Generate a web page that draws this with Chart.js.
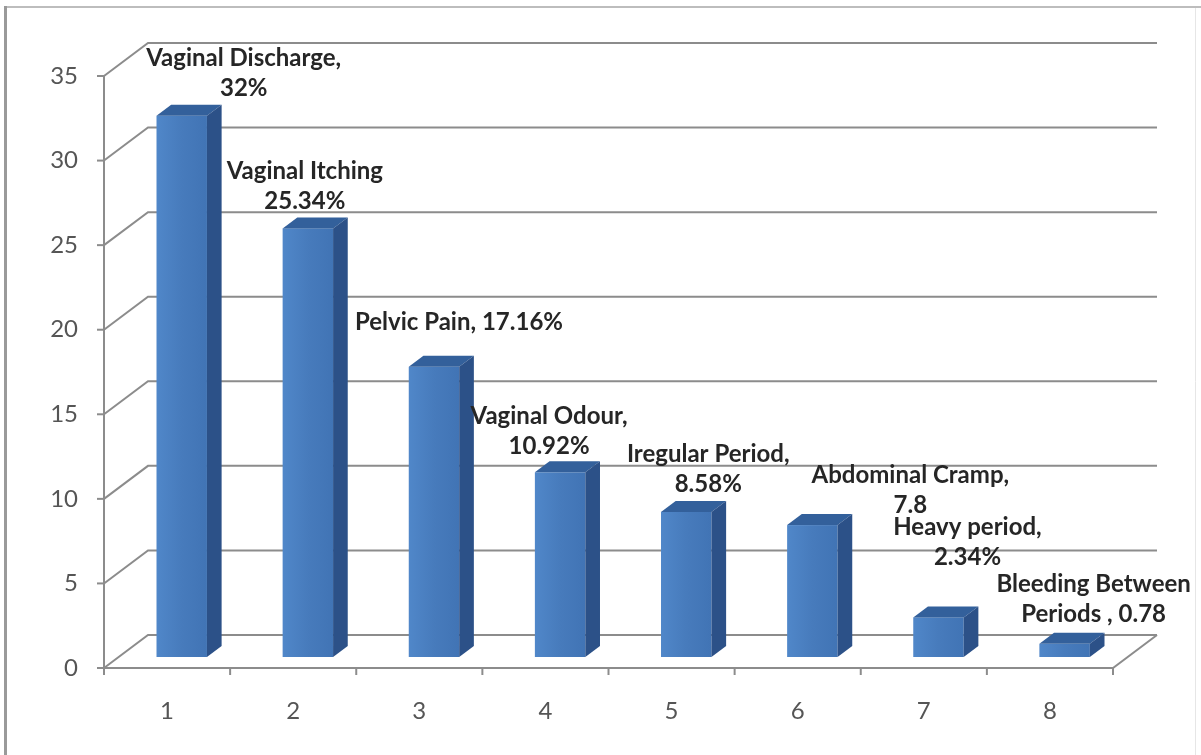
<!DOCTYPE html>
<html>
<head>
<meta charset="utf-8">
<script src="https://cdn.jsdelivr.net/npm/chart.js@4.4.1/dist/chart.umd.min.js"></script>
<style>
  html, body { margin: 0; padding: 0; background: #fff; }
  canvas { display: block; }
</style>
</head>
<body>
<canvas id="canvas1" width="1201" height="755"></canvas>
<script>
// symptoms reported (% of respondents)
let categories = ["1", "2", "3", "4", "5", "6", "7", "8"];
let percents = [32, 25.34, 17.16, 10.92, 8.58, 7.8, 2.34, 0.78];
let yTicks = [0, 5, 10, 15, 20, 25, 30, 35];

// text above each bar, {v} is replaced by the value
let labelLines = [
  ["Vaginal Discharge,", "{v}%"],
  ["Vaginal Itching", "{v}%"],
  ["Pelvic Pain, {v}%"],
  ["Vaginal Odour,", "{v}%"],
  ["Iregular Period,", "{v}%"],
  ["Abdominal Cramp,", "{v}"],
  ["Heavy period,", "{v}%"],
  ["Bleeding Between", "Periods , {v}"]
];
// where each label sits, relative to the top of its bar (last line centre)
let labelShift = [[62, -27], [-3, -27], [25, -44], [-11, -26], [22, -28], [98, -20], [29, -60], [29, -30]];

// 3d look
let depth = { x: 44, y: -33 };
let gridColor = "#8c8c8c";

function drawBox(ctx, x0, x1, yTop, yBase, d) {
  // front
  let g = ctx.createLinearGradient(x0, 0, x1, 0);
  g.addColorStop(0, "#5087c9");
  g.addColorStop(0.5, "#477bbc");
  g.addColorStop(1, "#4174b5");
  ctx.fillStyle = g;
  ctx.fillRect(x0, yTop, x1 - x0, yBase - yTop);
  // top
  ctx.fillStyle = "#33609b";
  ctx.beginPath();
  ctx.moveTo(x0, yTop);
  ctx.lineTo(x1, yTop);
  ctx.lineTo(x1 + d.x, yTop + d.y);
  ctx.lineTo(x0 + d.x, yTop + d.y);
  ctx.closePath();
  ctx.fill();
  // side
  ctx.fillStyle = "#2c5188";
  ctx.beginPath();
  ctx.moveTo(x1, yTop);
  ctx.lineTo(x1 + d.x, yTop + d.y);
  ctx.lineTo(x1 + d.x, yBase + d.y);
  ctx.lineTo(x1, yBase);
  ctx.closePath();
  ctx.fill();
}

const box3d = {
  id: "box3d",
  beforeDraw(chart) {
    let ctx = chart.ctx;
    ctx.save();
    ctx.fillStyle = "#fff";
    ctx.fillRect(0, 0, chart.width, chart.height);
    // frame round the chart
    ctx.strokeStyle = "#bdbdbd";
    ctx.lineWidth = 2;
    ctx.beginPath();
    ctx.moveTo(5, 7);
    ctx.lineTo(1201, 7);
    ctx.stroke();
    ctx.strokeStyle = "#e6e6e6";
    ctx.lineWidth = 1;
    ctx.beginPath();
    ctx.moveTo(1195.5, 8);
    ctx.lineTo(1195.5, 755);
    ctx.stroke();
    ctx.strokeStyle = "#9a9a9a";
    ctx.lineWidth = 3;
    ctx.beginPath();
    ctx.moveTo(5.5, 6);
    ctx.lineTo(5.5, 755);
    ctx.stroke();
    ctx.restore();
  },
  beforeDatasetsDraw(chart) {
    let ctx = chart.ctx;
    let a = chart.chartArea;
    let ys = chart.scales.y;
    let xs = chart.scales.x;
    ctx.save();
    ctx.strokeStyle = gridColor;
    ctx.lineWidth = 2;
    // back wall grid + side wall diagonals
    ys.ticks.forEach(function (t) {
      let py = ys.getPixelForValue(t.value);
      ctx.beginPath();
      ctx.moveTo(a.left, py);
      ctx.lineTo(a.left + depth.x, py + depth.y);
      ctx.lineTo(a.right + depth.x, py + depth.y);
      ctx.stroke();
      ctx.beginPath();
      ctx.moveTo(a.left - 7, py);
      ctx.lineTo(a.left, py);
      ctx.stroke();
    });
    // floor front edge + right edge
    let y0 = ys.getPixelForValue(0);
    ctx.beginPath();
    ctx.moveTo(a.left, y0);
    ctx.lineTo(a.right, y0);
    ctx.lineTo(a.right + depth.x, y0 + depth.y);
    ctx.stroke();
    // front value axis
    ctx.beginPath();
    ctx.moveTo(a.left, ys.getPixelForValue(yTicks[yTicks.length - 1]));
    ctx.lineTo(a.left, y0);
    ctx.stroke();
    // category tick marks
    let half = (xs.getPixelForTick(1) - xs.getPixelForTick(0)) / 2;
    for (let i = 0; i <= categories.length; i++) {
      let px = i < categories.length ? xs.getPixelForTick(i) - half : xs.getPixelForTick(i - 1) + half;
      ctx.beginPath();
      ctx.moveTo(px, y0);
      ctx.lineTo(px, y0 + 7);
      ctx.stroke();
    }
    ctx.restore();
  },
  afterDatasetsDraw(chart) {
    let ctx = chart.ctx;
    let meta = chart.getDatasetMeta(0);
    let d = { x: depth.x / 3, y: depth.y / 3 };
    ctx.save();
    meta.data.forEach(function (bar, i) {
      let x0 = bar.x - bar.width / 2 + d.x;
      let x1 = bar.x + bar.width / 2 + d.x;
      drawBox(ctx, x0, x1, bar.y + d.y, bar.base + d.y, d);
    });
    // value labels
    ctx.fillStyle = "#262626";
    ctx.font = "bold 24px Lato";
    ctx.textAlign = "center";
    ctx.textBaseline = "middle";
    meta.data.forEach(function (bar, i) {
      let lines = labelLines[i].map(s => s.replace("{v}", percents[i]));
      let cx = bar.x + d.x + labelShift[i][0];
      let cy = bar.y + d.y + labelShift[i][1];
      lines.forEach(function (s, j) {
        ctx.fillText(s, cx, cy - (lines.length - 1 - j) * 30);
      });
    });
    ctx.restore();
  }
};

new Chart(document.getElementById("canvas1"), {
  type: "bar",
  data: {
    labels: categories,
    datasets: [{
      data: percents,
      backgroundColor: "rgba(0,0,0,0)",
      borderWidth: 0,
      categoryPercentage: 1,
      barPercentage: 0.4
    }]
  },
  options: {
    responsive: false,
    animation: false,
    layout: { padding: { left: 0, right: 88, top: 76, bottom: 0 } },
    plugins: { legend: { display: false }, tooltip: { enabled: false } },
    scales: {
      x: {
        grid: { display: false, drawTicks: false },
        border: { display: false },
        ticks: { color: "#555", font: { family: "Lato", size: 24 }, padding: 29 },
        afterFit(scale) { scale.height = 87; }
      },
      y: {
        min: yTicks[0],
        max: yTicks[yTicks.length - 1],
        grid: { display: false, drawTicks: false },
        border: { display: false },
        ticks: { stepSize: yTicks[1] - yTicks[0], color: "#555", font: { family: "Lato", size: 24 }, padding: 26 },
        afterFit(scale) { scale.width = 104; }
      }
    }
  },
  plugins: [box3d]
});
</script>
</body>
</html>
